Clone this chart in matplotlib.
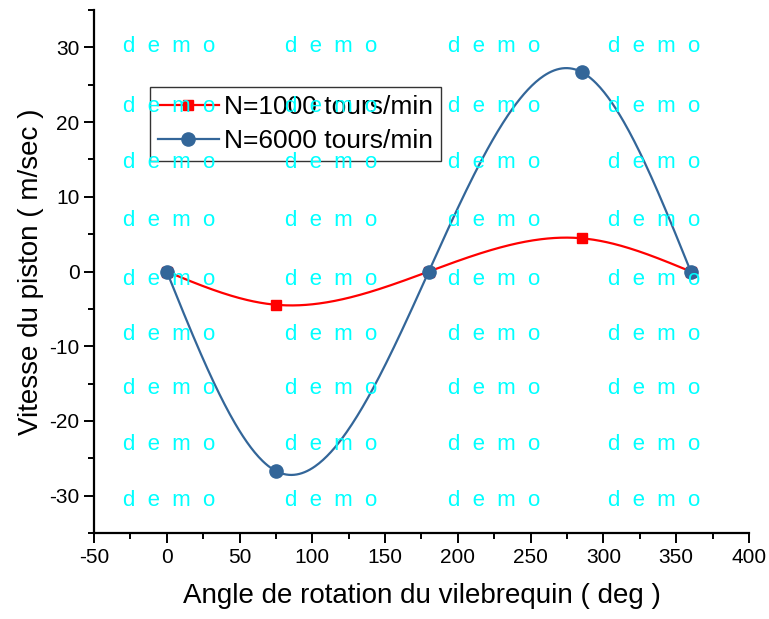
import numpy as np
import matplotlib.pyplot as plt
from matplotlib.ticker import MultipleLocator

plt.rcParams['font.family'] = ['Liberation Sans', 'DejaVu Sans']
plt.rcParams['axes.unicode_minus'] = False

# ---------- data ----------
angle = [0, 75, 180, 285, 360]
v_1000 = [0, -4.45, 0, 4.45, 0]
v_6000 = [0, -26.7, 0, 26.7, 0]
label_1000 = "N=1000 tours/min"
label_6000 = "N=6000 tours/min"


def natural_spline(x, y, n=400):
    # natural cubic spline through the points (Origin "spline" connect)
    x = np.asarray(x, float)
    y = np.asarray(y, float)
    k = len(x)
    h = np.diff(x)
    A = np.zeros((k, k))
    b = np.zeros(k)
    A[0, 0] = A[-1, -1] = 1
    for i in range(1, k - 1):
        A[i, i - 1] = h[i - 1]
        A[i, i] = 2 * (h[i - 1] + h[i])
        A[i, i + 1] = h[i]
        b[i] = 6 * ((y[i + 1] - y[i]) / h[i] - (y[i] - y[i - 1]) / h[i - 1])
    M = np.linalg.solve(A, b)
    xs = np.linspace(x[0], x[-1], n)
    idx = np.clip(np.searchsorted(x, xs) - 1, 0, k - 2)
    x0, x1 = x[idx], x[idx + 1]
    hh = x1 - x0
    ys = (M[idx] * (x1 - xs) ** 3 / (6 * hh) + M[idx + 1] * (xs - x0) ** 3 / (6 * hh)
          + (y[idx] / hh - M[idx] * hh / 6) * (x1 - xs)
          + (y[idx + 1] / hh - M[idx + 1] * hh / 6) * (xs - x0))
    return xs, ys


fig = plt.figure(figsize=(7.69, 6.19), dpi=100)
ax = fig.add_axes([0.1222, 0.1389, 0.8518, 0.8449])

# watermark
for xf in [0.160, 0.371, 0.582, 0.791]:
    for yp in [47, 107, 163, 221, 279, 334, 389, 445, 501]:
        fig.text(xf, 1 - yp / 619, "d  e  m  o", color='cyan', fontsize=16,
                 ha='left', va='center', zorder=0)

red = '#FF0000'
blue = '#336699'

xs, ys = natural_spline(angle, v_1000)
ax.plot(xs, ys, color=red, lw=1.6, zorder=3)
ax.plot(angle, v_1000, 's', color=red, ms=7, zorder=4)
ax.plot([], [], '-s', color=red, lw=1.6, ms=7, label=label_1000)

xs, ys = natural_spline(angle, v_6000)
ax.plot(xs, ys, color=blue, lw=1.6, zorder=5)
ax.plot(angle, v_6000, 'o', color=blue, ms=9.5, zorder=6)
ax.plot([], [], '-o', color=blue, lw=1.6, ms=9.5, label=label_6000)

ax.set_xlim(-50, 400)
ax.set_ylim(-35, 35)
ax.xaxis.set_major_locator(MultipleLocator(50))
ax.xaxis.set_minor_locator(MultipleLocator(25))
ax.yaxis.set_major_locator(MultipleLocator(10))
ax.yaxis.set_minor_locator(MultipleLocator(5))
ax.spines['top'].set_visible(False)
ax.spines['right'].set_visible(False)
for s in ['left', 'bottom']:
    ax.spines[s].set_linewidth(1.6)
ax.tick_params(which='major', direction='out', length=7, width=1.4, labelsize=15)
ax.tick_params(which='minor', direction='out', length=4, width=1.4)
ax.patch.set_alpha(0)

ax.set_xlabel("Angle de rotation du vilebrequin ( deg )", fontsize=20, labelpad=12)
ax.set_ylabel("Vitesse du piston ( m/sec )", fontsize=20, labelpad=4)

leg = ax.legend(loc='upper left', bbox_to_anchor=(0.0855, 0.853), fontsize=19,
                frameon=True, fancybox=False, borderaxespad=0, handlelength=2.3,
                borderpad=0.3, labelspacing=0.38, handletextpad=0.2)
leg.get_frame().set_edgecolor('black')
leg.get_frame().set_linewidth(1.0)

fig.savefig("out.png", dpi=100)
